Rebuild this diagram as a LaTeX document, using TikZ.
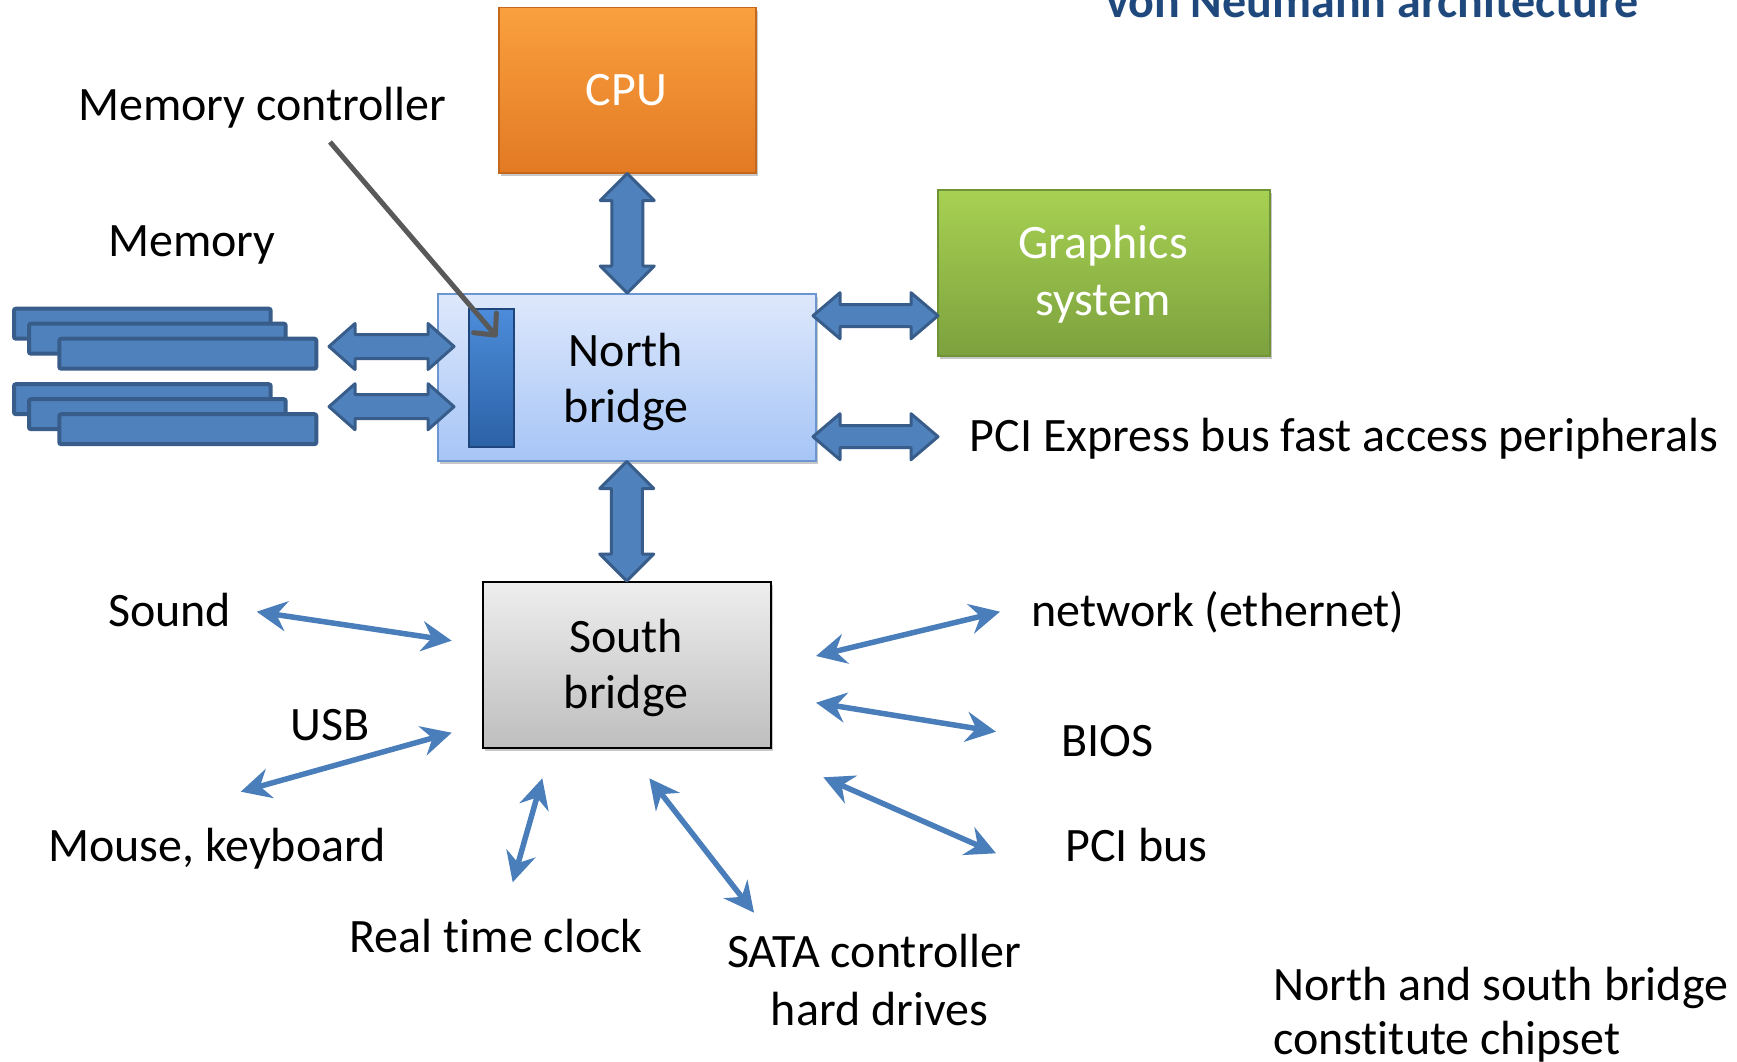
\documentclass[tikz,border=0pt]{standalone}
\usepackage{fontspec}
\setmainfont{Carlito}[Ligatures={NoCommon,NoRequired,NoContextual}]
\usetikzlibrary{arrows.meta,shadows,calc}
\definecolor{arrfill}{RGB}{79,129,189}
\definecolor{arrline}{RGB}{56,93,138}
\definecolor{thinarr}{RGB}{74,126,187}
\definecolor{titleblue}{RGB}{31,73,125}
\definecolor{ptrgray}{RGB}{89,89,89}
\tikzset{
  txt/.style={inner sep=0pt, font=\fontsize{48}{56}\selectfont},
  lw/.style={txt, anchor=base west},
  lc/.style={txt, anchor=base},
  boxshadow/.style={drop shadow={shadow xshift=2pt, shadow yshift=-3pt, opacity=.3, fill=black!70}},
  cpubox/.style={boxshadow, draw={rgb,255:red,196;green,104;blue,30}, line width=1.5pt, top color={rgb,255:red,250;green,160;blue,62}, bottom color={rgb,255:red,226;green,122;blue,36}, anchor=north west, inner sep=0pt},
  nbbox/.style={boxshadow, draw={rgb,255:red,108;green,150;blue,210}, line width=1.5pt, top color={rgb,255:red,222;green,232;blue,252}, bottom color={rgb,255:red,166;green,197;blue,246}, anchor=north west, inner sep=0pt},
  mcbar/.style={draw={rgb,255:red,30;green,70;blue,125}, line width=1.5pt, top color={rgb,255:red,76;green,140;blue,218}, bottom color={rgb,255:red,44;green,98;blue,166}, anchor=north west, inner sep=0pt},
  gfxbox/.style={boxshadow, draw={rgb,255:red,112;green,146;blue,56}, line width=1.5pt, top color={rgb,255:red,167;green,209;blue,82}, bottom color={rgb,255:red,124;green,161;blue,62}, anchor=north west, inner sep=0pt},
  sbbox/.style={boxshadow, draw=black, line width=2pt, top color={rgb,255:red,238;green,238;blue,238}, bottom color={rgb,255:red,190;green,190;blue,190}, anchor=north west, inner sep=0pt},
  blockarrow/.style={fill=arrfill, draw=arrline, line width=3pt, line join=round},
  memmod/.style={fill=arrfill, draw=arrline, line width=4pt, rounded corners=2pt},
  thinlink/.style={draw=thinarr, line width=5.5pt, {Stealth[length=30pt,width=30pt,inset=10pt]}-{Stealth[length=30pt,width=30pt,inset=10pt]}},
  pointer/.style={draw=ptrgray, line width=5pt, -{Straight Barb[length=16pt,width=30pt,round]}}
}
% horizontal double block arrow: #1 left tip, #2 right tip, #3 head length, #4 head half width, #5 shaft half width
\newcommand\hblockarrow[5]{%
  \draw[blockarrow] let \p1=(#1), \p2=(#2) in
   (\x1,\y1) -- ({\x1+#3pt},{\y1+#4pt}) -- ({\x1+#3pt},{\y1+#5pt}) -- ({\x2-#3pt},{\y1+#5pt})
   -- ({\x2-#3pt},{\y1+#4pt}) -- (\x2,\y1) -- ({\x2-#3pt},{\y1-#4pt}) -- ({\x2-#3pt},{\y1-#5pt})
   -- ({\x1+#3pt},{\y1-#5pt}) -- ({\x1+#3pt},{\y1-#4pt}) -- cycle;}
% vertical double block arrow: #1 top tip, #2 bottom tip
\newcommand\vblockarrow[5]{%
  \draw[blockarrow] let \p1=(#1), \p2=(#2) in
   (\x1,\y1) -- ({\x1+#4pt},{\y1-#3pt}) -- ({\x1+#5pt},{\y1-#3pt}) -- ({\x1+#5pt},{\y2+#3pt})
   -- ({\x1+#4pt},{\y2+#3pt}) -- (\x1,\y2) -- ({\x1-#4pt},{\y2+#3pt}) -- ({\x1-#5pt},{\y2+#3pt})
   -- ({\x1-#5pt},{\y1-#3pt}) -- ({\x1-#4pt},{\y1-#3pt}) -- cycle;}
\begin{document}
\begin{tikzpicture}[x=1pt, y=-1pt]
\useasboundingbox[fill=white] (0,0) rectangle (1737,1062);

% title (cut at top)
\node[lw, font=\fontsize{48}{56}\selectfont\bfseries, text=titleblue] (title) at (1106,18) {von Neumann architecture};

% boxes
\node[cpubox, minimum width=257pt, minimum height=165pt] (cpu) at (498,7) {};
\node[lc, text=white] (cputxt) at (626.5,106) {CPU};

\node[nbbox, minimum width=378pt, minimum height=167pt] (nb) at (437,293) {};
\node[mcbar, minimum width=45pt, minimum height=138pt] (mc) at (468,308) {};
\node[lc] (nbt1) at (626,366.5) {North};
\node[lc] (nbt2) at (626,422) {bridge};

\node[gfxbox, minimum width=332pt, minimum height=166pt] (gfx) at (937,189) {};
\node[lc, text=white] (gfxt1) at (1103,258.5) {Graphics};
\node[lc, text=white] (gfxt2) at (1103,315.5) {system};

\node[sbbox, minimum width=288pt, minimum height=166pt] (sb) at (482,581) {};
\node[lc] (sbt1) at (626,652) {South};
\node[lc] (sbt2) at (626,708) {bridge};

% memory modules
\foreach \dy in {0,75.5}{
  \draw[memmod] (14,308.7+\dy) rectangle (270.7,338.7+\dy);
  \draw[memmod] (29,323.7+\dy) rectangle (285.7,353.7+\dy);
  \draw[memmod] (59.3,338.7+\dy) rectangle (316.3,368.7+\dy);
}

% block arrows
\vblockarrow{cpu.south}{nb.north}{27}{27}{15.5}
\vblockarrow{nb.south}{sb.north}{27}{27}{15.5}
\coordinate (m1l) at (329,346.5);
\coordinate (m1r) at (454,346.5);
\coordinate (m2l) at (329,406.7);
\coordinate (m2r) at (454,406.7);
\hblockarrow{m1l}{m1r}{26}{23}{12}
\hblockarrow{m2l}{m2r}{26}{23}{12}
\coordinate (g1l) at (813,315.7);
\coordinate (g1r) at (938,315.7);
\coordinate (p1l) at (813,436.7);
\coordinate (p1r) at (938,436.7);
\hblockarrow{g1l}{g1r}{27}{23}{11}
\hblockarrow{p1l}{p1r}{27}{23}{11}

% labels
\node[lw] (mctxt) at (78,121) {Memory controller};
\node[lw] (memtxt) at (108,256.7) {Memory};
\node[lw] (pcietxt) at (969.5,451.7) {PCI Express bus fast access peripherals};
\node[lw] (sound) at (108,626.7) {Sound};
\node[lw] (usb) at (290.5,740) {USB};
\node[lw] (mouse) at (48,861.7) {Mouse, keyboard};
\node[lw] (rtc) at (349.5,952.7) {Real time clock};
\node[lc] (sata1) at (874,967.3) {SATA controller};
\node[lc] (sata2) at (879.5,1025) {hard drives};
\node[lw] (net) at (1031,626.7) {network (ethernet)};
\node[lw] (bios) at (1061,756.7) {BIOS};
\node[lw] (pcibus) at (1065,861.7) {PCI bus};
\node[lw] (note1) at (1273,1000) {North and south bridge};
\node[lw] (note2) at (1273,1054) {constitute chipset};

% memory controller pointer
\coordinate (mcstart) at (330,142);
\coordinate (mctip) at (497,337);
\draw[pointer] (mcstart) -- (mctip);

% south bridge links
\coordinate (sndA) at (256.7,611.7);   \coordinate (sndB) at (451.7,640.7);
\coordinate (usbA) at (451.7,732.7);   \coordinate (usbB) at (240.7,791.7);
\coordinate (rtcA) at (542.3,778.3);   \coordinate (rtcB) at (512.7,882.3);
\coordinate (sataA) at (649.3,778.3);  \coordinate (sataB) at (754,912.7);
\coordinate (netA) at (816,656);       \coordinate (netB) at (1000,611.7);
\coordinate (biosA) at (816,702.7);    \coordinate (biosB) at (996,731.7);
\coordinate (pciA) at (823.3,777.3);   \coordinate (pciB) at (996,853.3);
\draw[thinlink] (sndA) -- (sndB);
\draw[thinlink] (usbA) -- (usbB);
\draw[thinlink] (rtcA) -- (rtcB);
\draw[thinlink] (sataA) -- (sataB);
\draw[thinlink] (netA) -- (netB);
\draw[thinlink] (biosA) -- (biosB);
\draw[thinlink] (pciA) -- (pciB);
\end{tikzpicture}
\end{document}
